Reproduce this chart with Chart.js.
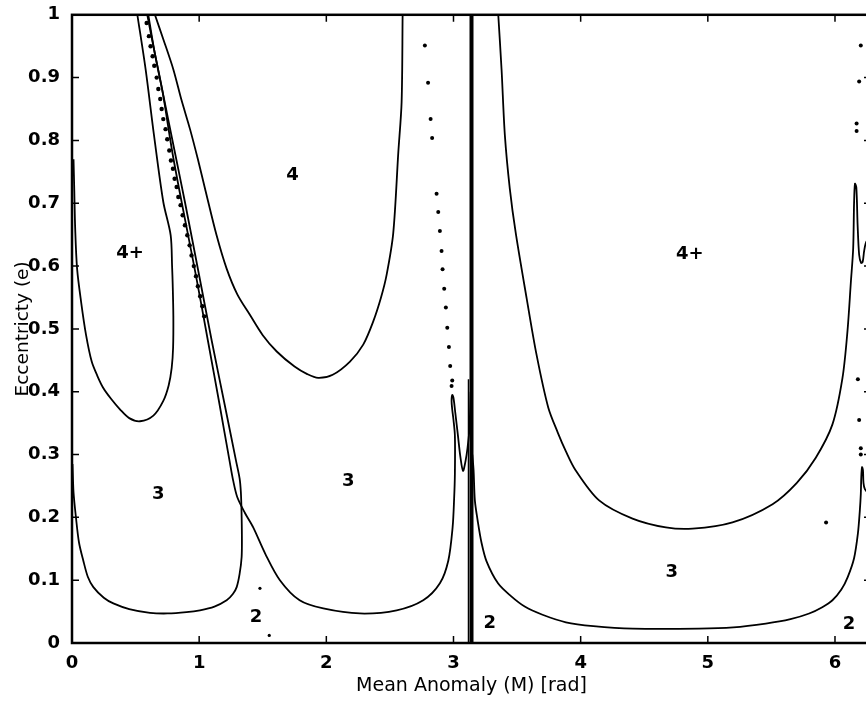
<!DOCTYPE html>
<html>
<head>
<meta charset="utf-8">
<script src="https://cdn.jsdelivr.net/npm/chart.js@4"></script>
<style>
  html, body { margin: 0; padding: 0; background: #fff; overflow: hidden; }
  canvas { display: block; }
</style>
</head>
<body>
<canvas id="c" width="880" height="702"></canvas>
<script>
// axis ticks
const xTicks = [0, 1, 2, 3, 4, 5, 6];
const yTicks = [0, 0.1, 0.2, 0.3, 0.4, 0.5, 0.6, 0.7, 0.8, 0.9, 1];
const yTickLabels = ["0", "0.1", "0.2", "0.3", "0.4", "0.5", "0.6", "0.7", "0.8", "0.9", "1"];

// contour lines as [M, e]
const left4Plus = [[0.012,0.77],[0.018,0.72],[0.025,0.66],[0.04,0.596],[0.071,0.544],[0.11,0.491],[0.155,0.448],[0.2,0.425],[0.246,0.406],[0.31,0.388],[0.377,0.372],[0.45,0.358],[0.535,0.353],[0.64,0.362],[0.717,0.385],[0.76,0.41],[0.784,0.438],[0.795,0.47],[0.797,0.52],[0.792,0.57],[0.787,0.60],[0.776,0.649],[0.718,0.702],[0.645,0.808],[0.579,0.913],[0.514,1.0]];
const left3 = [[0.004,0.285],[0.012,0.24],[0.031,0.2],[0.055,0.16],[0.089,0.131],[0.125,0.105],[0.168,0.089],[0.25,0.072],[0.325,0.063],[0.45,0.054],[0.613,0.048],[0.75,0.047],[0.9,0.049],[1.006,0.052],[1.12,0.058],[1.216,0.068],[1.265,0.078],[1.295,0.089],[1.318,0.11],[1.334,0.137],[1.336,0.17],[1.333,0.21],[1.328,0.24],[1.318,0.262],[1.29,0.29],[1.2,0.38],[1.1,0.48],[1.0,0.585],[0.888,0.702],[0.8,0.79],[0.72,0.87],[0.65,0.94],[0.6,1.0]];
const mid3 = [[0.592,1.0],[0.64,0.95],[0.71,0.88],[0.79,0.78],[0.862,0.702],[0.97,0.59],[1.07,0.48],[1.16,0.38],[1.239,0.29],[1.268,0.258],[1.3,0.232],[1.36,0.207],[1.425,0.184],[1.52,0.142],[1.635,0.1],[1.79,0.068],[1.976,0.055],[2.264,0.047],[2.553,0.052],[2.762,0.068],[2.893,0.095],[2.959,0.131],[2.993,0.184],[3.005,0.23],[3.011,0.27],[3.011,0.33],[3.0,0.355],[2.99,0.372],[2.985,0.385],[2.99,0.395],[3.0,0.39],[3.015,0.365],[3.035,0.33],[3.055,0.295],[3.075,0.274],[3.095,0.29],[3.11,0.31],[3.125,0.34],[3.135,0.4]];
const mid4 = [[0.652,1.0],[0.72,0.96],[0.797,0.913],[0.86,0.865],[0.928,0.818],[0.99,0.77],[1.05,0.72],[1.137,0.649],[1.216,0.596],[1.3,0.555],[1.4,0.522],[1.5,0.49],[1.61,0.464],[1.75,0.44],[1.85,0.428],[1.936,0.422],[2.05,0.427],[2.186,0.448],[2.29,0.475],[2.369,0.512],[2.43,0.55],[2.474,0.586],[2.526,0.652],[2.566,0.781],[2.592,0.861],[2.6,1.0]];
const right3 = [[3.148,0.3],[3.158,0.275],[3.168,0.227],[3.19,0.195],[3.22,0.16],[3.26,0.13],[3.35,0.095],[3.45,0.075],[3.56,0.058],[3.7,0.045],[3.884,0.033],[4.1,0.027],[4.41,0.023],[4.93,0.023],[5.2,0.025],[5.456,0.031],[5.65,0.038],[5.797,0.047],[5.9,0.057],[5.98,0.068],[6.05,0.085],[6.1,0.105],[6.15,0.135],[6.18,0.174],[6.195,0.21],[6.203,0.237],[6.207,0.265],[6.213,0.28],[6.22,0.275],[6.224,0.255],[6.235,0.245],[6.26,0.24],[6.29,0.24]];
const right4Plus = [[3.352,1.0],[3.378,0.913],[3.404,0.808],[3.443,0.723],[3.49,0.652],[3.575,0.549],[3.653,0.459],[3.745,0.375],[3.82,0.335],[3.884,0.305],[3.96,0.275],[4.145,0.227],[4.408,0.198],[4.67,0.184],[4.88,0.182],[5.194,0.192],[5.509,0.221],[5.7,0.255],[5.849,0.295],[5.98,0.348],[6.059,0.422],[6.098,0.496],[6.125,0.575],[6.143,0.628],[6.15,0.7],[6.157,0.731],[6.168,0.725],[6.178,0.665],[6.19,0.618],[6.205,0.605],[6.218,0.607],[6.23,0.625],[6.25,0.64],[6.29,0.64]];
const piLine = [[3.1416,0],[3.1416,1]];
const thinLine = [[3.118,0],[3.118,0.42]];

// isolated points
const dotsLeft = [[0.587,0.987],[0.605,0.966],[0.618,0.95],[0.634,0.934],[0.647,0.919],[0.666,0.9],[0.679,0.882],[0.694,0.866],[0.705,0.85],[0.718,0.834],[0.736,0.818],[0.749,0.802],[0.765,0.784],[0.778,0.768],[0.794,0.755],[0.807,0.739],[0.823,0.726],[0.836,0.71],[0.854,0.697],[0.87,0.681],[0.888,0.665],[0.907,0.649],[0.925,0.633],[0.94,0.617],[0.958,0.6],[0.975,0.584],[0.99,0.568],[1.008,0.552],[1.025,0.536],[1.04,0.52]];
const dotsMid = [[2.775,0.951],[2.8,0.892],[2.82,0.834],[2.832,0.804],[2.867,0.715],[2.88,0.686],[2.893,0.656],[2.906,0.624],[2.914,0.595],[2.927,0.564],[2.94,0.534],[2.951,0.502],[2.964,0.471],[2.974,0.441],[2.985,0.409],[2.99,0.418]];
const dotsRight = [[6.203,0.951],[6.19,0.894],[6.17,0.815],[6.17,0.827],[6.18,0.42],[6.19,0.355],[6.203,0.3],[6.203,0.31],[5.93,0.192]];
const dotsLow = [[1.478,0.087],[1.551,0.012]];

// region labels
const regionText = ["4+", "4", "3", "3", "2", "2", "4+", "3", "2"];
const regionX = [0.456, 1.735, 0.679, 2.173, 1.447, 3.286, 4.858, 4.717, 6.11];
const regionY = [0.62, 0.744, 0.237, 0.258, 0.041, 0.031, 0.618, 0.113, 0.029];

function toPts(arr) {
  return arr.map((p) => ({ x: p[0], y: p[1] }));
}

function lineSet(arr, width, tension) {
  return {
    data: toPts(arr),
    showLine: true,
    borderColor: "#000",
    borderWidth: width,
    pointRadius: 0,
    tension: tension,
  };
}

function dotSet(arr, r) {
  return {
    data: toPts(arr),
    showLine: false,
    pointRadius: r,
    pointBackgroundColor: "#000",
    pointBorderWidth: 0,
  };
}

const overlay = {
  id: "overlay",
  afterDatasetsDraw(chart) {
    const { ctx, chartArea: a, scales } = chart;
    const x = scales.x, y = scales.y;
    ctx.save();
    ctx.strokeStyle = "#000";
    ctx.lineWidth = 2.5;
    ctx.strokeRect(a.left, a.top, a.right - a.left, a.bottom - a.top);
    ctx.lineWidth = 1.5;
    ctx.beginPath();
    xTicks.forEach((v) => {
      const px = x.getPixelForValue(v);
      ctx.moveTo(px, a.bottom); ctx.lineTo(px, a.bottom - 7);
      ctx.moveTo(px, a.top); ctx.lineTo(px, a.top + 7);
    });
    yTicks.forEach((v) => {
      const py = y.getPixelForValue(v);
      ctx.moveTo(a.left, py); ctx.lineTo(a.left + 7, py);
      ctx.moveTo(a.right, py); ctx.lineTo(a.right - 7, py);
    });
    ctx.stroke();
    // region numbers
    ctx.fillStyle = "#000";
    ctx.font = 'bold 18px "DejaVu Sans"';
    ctx.textAlign = "center";
    ctx.textBaseline = "middle";
    regionText.forEach((t, i) => {
      ctx.fillText(t, x.getPixelForValue(regionX[i]), y.getPixelForValue(regionY[i]));
    });
    ctx.restore();
  },
};

new Chart(document.getElementById("c").getContext("2d"), {
  type: "scatter",
  data: {
    datasets: [
      lineSet(left4Plus, 1.8, 0.3),
      lineSet(left3, 1.8, 0.3),
      lineSet(mid3, 1.8, 0.3),
      lineSet(mid4, 1.8, 0.3),
      lineSet(right3, 1.8, 0.3),
      lineSet(right4Plus, 1.8, 0.3),
      lineSet(piLine, 4, 0),
      lineSet(thinLine, 1.5, 0),
      dotSet(dotsLeft, 2.2),
      dotSet(dotsMid, 2),
      dotSet(dotsRight, 2),
      dotSet(dotsLow, 1.6),
    ],
  },
  options: {
    responsive: false,
    animation: false,
    layout: { padding: { top: 12, right: 9, left: 0, bottom: 0 } },
    plugins: {
      legend: { display: false },
      tooltip: { enabled: false },
    },
    scales: {
      x: {
        type: "linear",
        min: 0,
        max: 2 * Math.PI,
        grid: { display: false },
        border: { display: false },
        afterBuildTicks: (s) => { s.ticks = xTicks.map((v) => ({ value: v })); },
        afterFit: (s) => { s.height = 59; },
        ticks: {
          color: "#000",
          padding: 2,
          maxRotation: 0,
          autoSkip: false,
          font: { family: "DejaVu Sans", size: 18, weight: "bold" },
          callback: (v) => String(v),
        },
        title: {
          display: true,
          text: "Mean Anomaly (M) [rad]",
          color: "#000",
          padding: { top: 0, bottom: 5 },
          font: { family: "DejaVu Sans", size: 19 },
        },
      },
      y: {
        type: "linear",
        min: 0,
        max: 1,
        grid: { display: false },
        border: { display: false },
        afterBuildTicks: (s) => { s.ticks = yTicks.map((v) => ({ value: v })); },
        afterFit: (s) => { s.width = 72; },
        ticks: {
          color: "#000",
          padding: 4,
          font: { family: "DejaVu Sans", size: 18, weight: "bold" },
          callback: (v, i) => yTickLabels[i],
        },
        title: {
          display: true,
          text: "Eccentricty (e)",
          color: "#000",
          padding: { top: 12, bottom: 0 },
          font: { family: "DejaVu Sans", size: 18.5 },
        },
      },
    },
  },
  plugins: [overlay],
});
</script>
</body>
</html>
